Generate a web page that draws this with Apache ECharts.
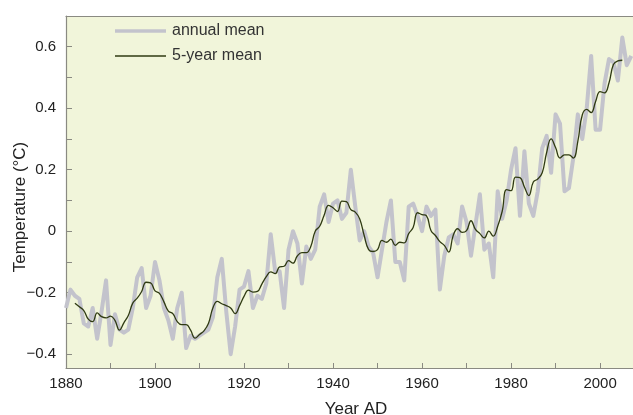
<!DOCTYPE html>
<html>
<head>
<meta charset="utf-8">
<script src="https://cdn.jsdelivr.net/npm/echarts@6/dist/echarts.min.js"></script>
<style>
  html, body { margin: 0; padding: 0; background: #ffffff; }
  #chart { width: 633px; height: 415px; }
</style>
</head>
<body>
<div id="chart"></div>
<script>
// Global mean surface temperature anomaly (°C), one value per year from 1880
const FIRST_YEAR = 1880;
const annualMean = [
  -0.25, -0.19, -0.21, -0.22, -0.30, -0.31, -0.25, -0.35, -0.26, -0.16,   // 1880s
  -0.37, -0.27, -0.32, -0.33, -0.32, -0.25, -0.15, -0.12, -0.25, -0.21,   // 1890s
  -0.10, -0.16, -0.25, -0.29, -0.35, -0.25, -0.20, -0.38, -0.34, -0.35,   // 1900s
  -0.34, -0.33, -0.32, -0.28, -0.15, -0.09, -0.26, -0.40, -0.31, -0.19,   // 1910s
  -0.18, -0.13, -0.25, -0.21, -0.22, -0.17, -0.01, -0.13, -0.13, -0.25,   // 1920s
  -0.06,  0.00, -0.04, -0.17, -0.05, -0.09, -0.06,  0.08,  0.12,  0.03,   // 1930s
   0.09,  0.10,  0.04,  0.06,  0.20,  0.08, -0.03,  0.00, -0.05, -0.07,   // 1940s
  -0.15, -0.06,  0.03,  0.10, -0.10, -0.10, -0.16,  0.08,  0.09,  0.05,   // 1950s
   0.00,  0.08,  0.05,  0.07, -0.19, -0.08, -0.02, -0.01, -0.04,  0.08,   // 1960s
   0.03, -0.08,  0.02,  0.12, -0.06, -0.04, -0.15,  0.13,  0.04,  0.10,   // 1970s
   0.20,  0.27,  0.05,  0.26,  0.09,  0.05,  0.13,  0.27,  0.31,  0.19,   // 1980s
   0.38,  0.35,  0.13,  0.14,  0.24,  0.38,  0.30,  0.40,  0.57,  0.33,   // 1990s
   0.33,  0.48,  0.56,  0.55,  0.49,  0.63,  0.54,  0.57                   // 2000s
];

// Centred 5-year mean, 1882 to 2005
const FIVE_YEAR_FIRST = 1882;
const fiveYearMean = [
  -0.234, -0.246, -0.258, -0.286, -0.294, -0.266, -0.278, -0.282,                 // 1882-1889
  -0.276, -0.290, -0.322, -0.298, -0.274, -0.234, -0.218, -0.196, -0.166, -0.168, // 1890s
  -0.194, -0.202, -0.230, -0.260, -0.268, -0.294, -0.304, -0.304, -0.322, -0.348, // 1900s
  -0.336, -0.324, -0.300, -0.250, -0.228, -0.236, -0.242, -0.250, -0.268, -0.242, // 1910s
  -0.212, -0.192, -0.198, -0.196, -0.172, -0.148, -0.132, -0.138, -0.116, -0.114, // 1920s
  -0.096, -0.104, -0.080, -0.070, -0.070, -0.050,  0.000,  0.016,  0.052,  0.084, // 1930s
   0.076,  0.064,  0.098,  0.096,  0.070,  0.062,  0.040, -0.014, -0.060, -0.066, // 1940s
  -0.060, -0.030, -0.036, -0.026, -0.046, -0.036, -0.038, -0.008,  0.012,  0.060, // 1950s
   0.054,  0.050,  0.002, -0.014, -0.034, -0.046, -0.068, -0.014,  0.008, -0.004, // 1960s
   0.002,  0.034,  0.006, -0.008, -0.022,  0.000, -0.016,  0.016,  0.064,  0.135, // 1970s
   0.132,  0.176,  0.174,  0.144,  0.116,  0.160,  0.170,  0.190,  0.256,  0.300, // 1980s
   0.272,  0.238,  0.248,  0.248,  0.238,  0.292,  0.378,  0.396,  0.386,  0.422, // 1990s
   0.454,  0.450,  0.482,  0.542,  0.554,  0.556                                   // 2000-2005
];

const yearTicks = [1880, 1890, 1900, 1910, 1920, 1930, 1940, 1950, 1960, 1970, 1980, 1990, 2000];
const yearLabels = [1880, 1900, 1920, 1940, 1960, 1980, 2000];
const tempTicks = [-0.4, -0.3, -0.2, -0.1, 0, 0.1, 0.2, 0.3, 0.4, 0.5, 0.6];
const tempLabels = [-0.4, -0.2, 0, 0.2, 0.4, 0.6];

const FONT = '"Liberation Sans", Arial, Helvetica, sans-serif';
const AXIS_GREY = '#8a8a82';
const TEXT = '#222222';
const ANNUAL_COLOR = '#c3c3cc';
const SMOOTH_COLOR = '#2f3a12';

const chart = echarts.init(document.getElementById('chart'), null, { renderer: 'canvas' });

const fmtTemp = v => {
  if (Math.abs(v) < 1e-9) return '0';
  return (v < 0 ? '\u2212' : '') + Math.abs(v).toFixed(1);
};

// Key in the upper-left corner: line sample followed by its name
const keyRow = (y, color, width, label) => [{
  type: 'line',
  shape: { x1: 115, y1: y, x2: 166, y2: y },
  style: { stroke: color, lineWidth: width },
  z: 10
}, {
  type: 'text',
  x: 172, y: y,
  style: { text: label, font: '16px ' + FONT, fill: '#333333', textVerticalAlign: 'middle' },
  z: 10
}];

chart.setOption({
  backgroundColor: '#ffffff',
  animation: false,
  grid: {
    left: 66, right: 0, top: 16, bottom: 47,
    show: true,
    backgroundColor: '#f1f5da',
    borderWidth: 0
  },
  xAxis: [{
    type: 'value',
    min: 1880, max: 2007.4,
    position: 'bottom',
    axisLine: { show: true, onZero: false, lineStyle: { color: AXIS_GREY, width: 1.2 } },
    axisTick: { show: true, inside: true, length: 5, customValues: yearTicks, lineStyle: { color: AXIS_GREY } },
    axisLabel: { show: true, customValues: yearLabels, margin: 8, fontFamily: FONT, fontSize: 15, color: TEXT, formatter: v => String(v) },
    splitLine: { show: false }
  }, {
    type: 'value',
    min: 1880, max: 2007.4,
    position: 'top',
    axisLine: { show: true, onZero: false, lineStyle: { color: AXIS_GREY, width: 1.2 } },
    axisTick: { show: false },
    axisLabel: { show: false },
    splitLine: { show: false }
  }],
  yAxis: {
    type: 'value',
    min: -0.445, max: 0.70,
    axisLine: { show: true, onZero: false, lineStyle: { color: AXIS_GREY, width: 1.2 } },
    axisTick: { show: true, inside: true, length: 6, customValues: tempTicks, lineStyle: { color: AXIS_GREY } },
    axisLabel: { show: true, customValues: tempLabels, margin: 10, fontFamily: FONT, fontSize: 15, color: TEXT, formatter: fmtTemp },
    splitLine: { show: false }
  },
  graphic: [
    ...keyRow(31, ANNUAL_COLOR, 3.5, 'annual mean'),
    ...keyRow(56, SMOOTH_COLOR, 1.3, '5-year mean'),
    {
      type: 'text',
      x: 20, y: 207, rotation: Math.PI / 2,
      style: {
        text: 'Temperature (\u00B0C)',
        font: '17px ' + FONT,
        fill: TEXT,
        textAlign: 'center',
        textVerticalAlign: 'middle'
      }
    }, {
      type: 'text',
      x: 356, y: 409,
      style: {
        text: 'Year AD',
        font: '17px ' + FONT,
        fill: TEXT,
        textAlign: 'center',
        textVerticalAlign: 'middle'
      }
    }
  ],
  series: [{
    name: 'annual mean',
    type: 'line',
    xAxisIndex: 0,
    data: annualMean.map((v, i) => [FIRST_YEAR + i, v]),
    showSymbol: false,
    symbol: 'none',
    lineStyle: { color: ANNUAL_COLOR, width: 4, join: 'round' },
    itemStyle: { color: ANNUAL_COLOR },
    z: 2
  }, {
    name: '5-year mean',
    type: 'line',
    xAxisIndex: 0,
    data: fiveYearMean.map((v, i) => [FIVE_YEAR_FIRST + i, v]),
    showSymbol: false,
    symbol: 'none',
    smooth: 0.45,
    lineStyle: { color: SMOOTH_COLOR, width: 1.3 },
    itemStyle: { color: SMOOTH_COLOR },
    z: 3
  }]
});
</script>
</body>
</html>
